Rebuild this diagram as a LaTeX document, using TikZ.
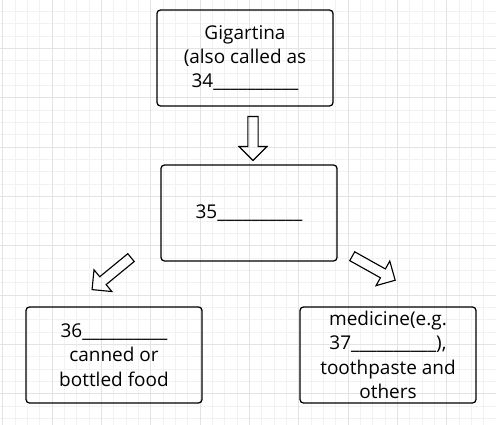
\documentclass[tikz,border=0pt]{standalone}
\usepackage{fontspec}
\setmainfont{Open Sans}
\usetikzlibrary{shapes.arrows, calc}

\newcommand{\answerline}{\_\_\_\_\_\_\_\_\_\_}

\begin{document}
\begin{tikzpicture}[
        x=0.025cm, y=-0.025cm,
        % Define styles
        box/.style={draw, line width=0.9pt, rounded corners=2.5pt, minimum width=4.4cm, minimum height=2.4cm, align=center, inner sep=0pt, font=\fontsize{13.5}{17.4}\selectfont},
        blockarrow/.style={draw, line width=0.8pt, single arrow, single arrow head extend=0.225cm, inner xsep=0pt, inner ysep=0.1125cm, minimum height=#1},
        minorline/.style={black!5, line width=0.4pt},
        majorline/.style={black!11, line width=0.5pt}
    ]

    % Page and background grid
    \useasboundingbox (0,0) rectangle (496,425);
    \fill[white] (0,0) rectangle (496,425);
    \foreach \i in {0,...,40} {
        \draw[minorline] (2.7+12.33*\i,0) -- (2.7+12.33*\i,425);
    }
    \foreach \j in {0,...,35} {
        \draw[minorline] (0,-1+12.33*\j) -- (496,-1+12.33*\j);
    }
    \foreach \i in {0,...,10} {
        \draw[majorline] (2.7+49.32*\i,0) -- (2.7+49.32*\i,425);
        \draw[majorline] (0,-1+49.32*\i) -- (496,-1+49.32*\i);
    }

    % 1. Source
    \node[box] (plant) at (245,58) {Gigartina\\(also called as\\34\answerline};

    % 2. Middle product
    \node[box] (product) at (249,213) {35\answerline};

    % 3. Uses
    \node[box] (food) at (114,355) {36\answerline\\canned or\\bottled food};
    \node[box] (medicine) at (388,355) {medicine(e.g.\\37\answerline),\\toothpaste and\\others};

    % Block arrows
    \node[blockarrow=1.1cm, rotate=-90] (down) at (253,136) {};
    \node[blockarrow=1.26cm, rotate=219.4] (left) at (113.5,272) {};
    \node[blockarrow=1.23cm, rotate=-29.2] (right) at (371.5,267) {};

\end{tikzpicture}
\end{document}
